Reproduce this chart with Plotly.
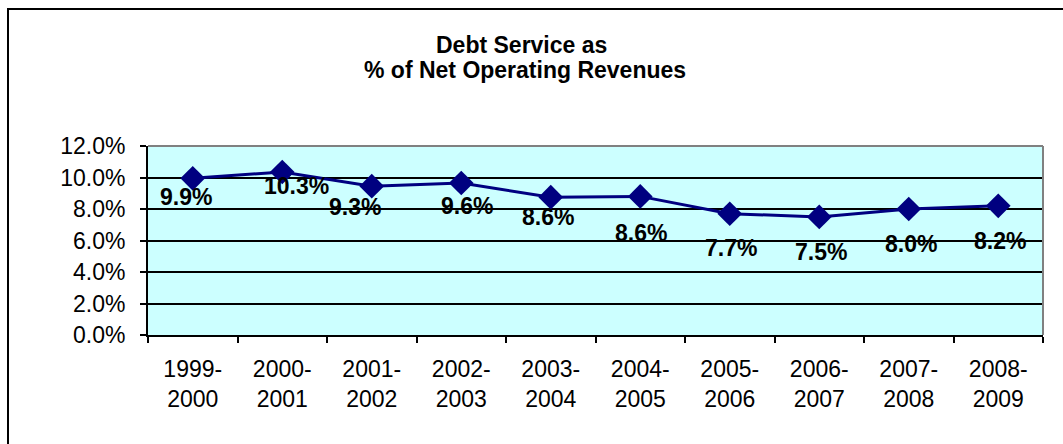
import plotly.graph_objects as go

categories = ["1999-<br>2000", "2000-<br>2001", "2001-<br>2002", "2002-<br>2003", "2003-<br>2004",
              "2004-<br>2005", "2005-<br>2006", "2006-<br>2007", "2007-<br>2008", "2008-<br>2009"]
values = [0.099, 0.103, 0.093, 0.096, 0.086, 0.086, 0.077, 0.075, 0.080, 0.082]
marker_values = [0.0995, 0.1035, 0.0945, 0.0965, 0.0875, 0.0880, 0.0770, 0.0750, 0.0800, 0.0820]
label_dx = [-7, 14, -17, 6, -3, 1, 1, 2, 2, 2]
label_dy = [19, 14, 21, 23, 20, 37, 34, 35, 35, 35]
title_lines = ["Debt Service as", "% of Net Operating Revenues"]

FONT = "Liberation Sans, Arial, sans-serif"
NAVY = "#000080"
FS = 23

W, H = 1063, 444
L, R, T, B = 148, 20, 146, 109
pw, ph = W - L - R, H - T - B

def px(x):
    return (x - L) / pw

def py(y):
    return (H - B - y) / ph

fig = go.Figure()
fig.add_trace(go.Scatter(
    x=categories, y=marker_values, mode="lines+markers",
    line=dict(color=NAVY, width=3),
    marker=dict(symbol="diamond", size=19, color=NAVY),
    hoverinfo="skip", showlegend=False,
))

for c, v, mv, dx, dy in zip(categories, values, marker_values, label_dx, label_dy):
    fig.add_annotation(x=c, y=mv, text=f"<b>{v*100:.1f}%</b>", showarrow=False,
                       xshift=dx, yshift=-dy, font=dict(family=FONT, size=FS, color="black"))

for line, (cx, cy) in zip(title_lines, [(521, 45), (525, 70)]):
    fig.add_annotation(xref="paper", yref="paper", x=px(cx), y=py(cy), xanchor="center",
                       yanchor="middle", text=f"<b>{line}</b>", showarrow=False,
                       font=dict(family=FONT, size=FS, color="black"))

fig.update_layout(
    width=W, height=H,
    margin=dict(l=L, r=R, t=T, b=B),
    paper_bgcolor="white", plot_bgcolor="#CCFFFF",
    font=dict(family=FONT, color="black"),
    xaxis=dict(range=[-0.5, len(categories) - 0.5], showline=True, linecolor="black",
               linewidth=2, ticks="outside",
               ticklen=6, tickcolor="black", tickwidth=2, tickson="boundaries",
               showgrid=False, tickfont=dict(family=FONT, size=FS, color="black"),
               ticklabelstandoff=12),
    yaxis=dict(range=[0, 0.12], dtick=0.02, tickformat=".1%", showline=True,
               linecolor="black", linewidth=2, ticks="outside", ticklen=6,
               tickcolor="black", tickwidth=2, showgrid=True, gridcolor="black",
               gridwidth=1.5, zeroline=False,
               tickfont=dict(family=FONT, size=FS, color="black"),
               ticklabelstandoff=10),
    shapes=[
        dict(type="line", xref="paper", yref="paper", x0=0, x1=1, y0=1, y1=1,
             line=dict(color="#808080", width=2)),
        dict(type="line", xref="paper", yref="paper", x0=1, x1=1, y0=0, y1=1,
             line=dict(color="#808080", width=2)),
        dict(type="rect", xref="paper", yref="paper", x0=px(8), x1=px(1100),
             y0=py(480), y1=py(9), line=dict(color="black", width=2),
             fillcolor="rgba(0,0,0,0)", layer="below"),
    ],
)

fig.write_html("out.html")
